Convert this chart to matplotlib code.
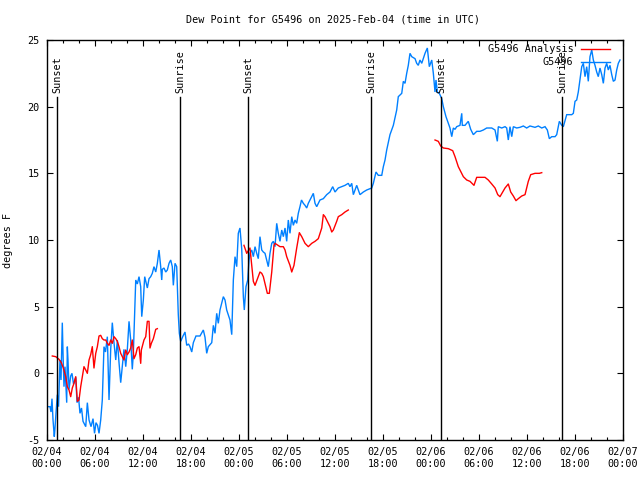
import numpy as np
import matplotlib
matplotlib.use("Agg")
import matplotlib.pyplot as plt
from matplotlib.ticker import MultipleLocator

# ---------------- data (hours since 2025-02-04 00:00 UTC) ----------------
obs_hours = [0.16, 0.41, 0.54, 0.66, 0.79, 0.95, 1.04, 1.16, 1.33, 1.48, 1.66, 1.79, 1.95,
             2.04, 2.16, 2.29, 2.50, 2.58, 2.66, 2.79, 3.00, 3.16, 3.35, 3.63, 3.79, 3.98,
             4.16, 4.35, 4.54, 4.88, 5.08, 5.29, 5.54, 5.79, 5.98, 6.16, 6.35, 6.54, 6.75,
             6.95, 7.16, 7.35, 7.58, 7.79, 8.00, 8.20, 8.41, 8.63, 8.83, 9.04, 9.25, 9.45,
             9.66, 9.88, 10.08, 10.29, 10.50, 10.70, 10.83, 11.00, 11.13, 11.33, 11.54, 11.75,
             11.88, 12.08, 12.25, 12.58, 12.79, 13.00, 13.20, 13.41, 13.63, 13.83, 14.04,
             14.25, 14.38, 14.45, 14.66, 14.88, 15.08, 15.29, 15.50, 15.70, 15.83, 16.04,
             16.25, 16.45, 16.58, 16.75, 17.04, 17.29, 17.50, 17.73, 17.91, 18.13, 18.33,
             18.66, 19.16, 19.58, 19.79, 20.00, 20.20, 20.63, 20.83, 21.04, 21.25, 21.45,
             21.66, 22.08, 22.29, 22.50, 22.91, 23.13, 23.33, 23.54, 23.75, 23.95, 24.16,
             24.38, 24.58, 24.70, 24.91, 25.13, 25.29, 25.41, 25.63, 25.83, 26.04, 26.25,
             26.45, 26.66, 26.88, 27.08, 27.29, 27.50, 27.70, 27.91, 28.13, 28.33, 28.54,
             28.75, 28.95, 29.16, 29.38, 29.58, 29.79, 30.00, 30.20, 30.41, 30.63, 30.83,
             31.04, 31.25, 31.45, 31.66, 31.85, 32.08, 32.29, 32.50, 32.70, 32.91, 33.13,
             33.33, 33.54, 33.75, 34.16, 34.58, 35.00, 35.41, 35.75, 36.04, 36.45, 36.88,
             37.29, 37.70, 37.91, 38.13, 38.33, 38.75, 39.16, 39.58, 40.00, 40.63, 40.83,
             41.16, 41.45, 41.88, 42.08, 42.29, 42.50, 42.91, 43.33, 43.75, 43.95, 44.38,
             44.58, 44.79, 45.00, 45.20, 45.41, 45.63, 46.04, 46.25, 46.45, 46.66, 46.88,
             47.29, 47.58, 47.83, 48.13, 48.33, 48.54, 48.66, 48.83, 49.08, 49.38, 49.58,
             49.91, 50.20, 50.41, 50.63, 50.83, 51.04, 51.25, 51.66, 51.88, 51.95, 52.29,
             52.70, 53.00, 53.33, 53.75, 54.16, 54.58, 55.00, 55.63, 56.04, 56.16, 56.33,
             56.45, 56.88, 57.29, 57.50, 57.70, 57.91, 58.13, 58.33, 58.75, 59.16, 59.58,
             60.00, 60.41, 61.04, 61.45, 61.88, 62.29, 62.58, 62.83, 63.13, 63.54, 63.75,
             64.08, 64.38, 64.58, 65.00, 65.63, 65.83, 66.04, 66.25, 66.45, 66.66, 66.88,
             67.08, 67.29, 67.50, 67.70, 67.91, 68.13, 68.33, 68.54, 68.75, 68.95, 69.16,
             69.38, 69.58, 69.79, 70.00, 70.20, 70.41, 70.63, 70.83, 71.04, 71.25, 71.45,
             71.66]
obs_dewpt = [-2.5, -2.5, -2.9, -1.9, -3.5, -4.75, -4.1, -3.0, -1.6, -2.5, 1.0, -0.5, 3.8,
             1.5, -1.0, 0.5, -2.2, 2.0, 1.0, -1.2, -0.2, 0.0, -0.8, -0.3, -2.2, -1.8,
             -3.0, -2.6, -3.6, -4.0, -2.2, -3.5, -4.0, -3.4, -4.5, -3.7, -3.9, -4.5, -3.5,
             -2.0, 2.0, 1.6, 2.75, -2.0, 1.8, 3.8, 2.3, 1.0, 2.5, 0.8, -0.7, 0.5,
             1.8, 0.5, 1.8, 3.9, 2.5, 0.3, 1.5, 4.75, 7.0, 6.7, 7.25, 6.5,
             4.25, 5.5, 7.25, 6.4, 7.1, 7.25, 7.5, 8.0, 7.6, 8.25, 9.25,
             8.0, 7.0, 7.8, 7.9, 7.6, 7.75, 8.25, 8.5, 8.0, 6.6, 8.25,
             8.0, 4.4, 3.0, 2.4, 2.8, 3.1, 2.1, 2.2, 2.0, 1.6, 2.3,
             2.8, 2.8, 3.25, 2.7, 1.5, 2.0, 2.3, 3.6, 3.0, 4.5, 3.75,
             4.75, 5.75, 5.5, 4.75, 4.0, 2.9, 7.0, 8.75, 8.0, 10.5, 10.9,
             9.3, 5.75, 4.75, 6.5, 7.0, 8.5, 9.0, 9.25, 8.75, 9.5, 9.0,
             8.6, 10.25, 9.25, 9.1, 9.0, 8.5, 8.0, 9.0, 9.75, 9.9, 9.5,
             11.25, 10.5, 9.9, 10.75, 10.25, 10.9, 9.9, 11.5, 10.5, 11.75, 11.1,
             11.5, 11.25, 12.0, 12.5, 13.0, 12.75, 12.6, 12.4, 12.75, 13.0, 13.25,
             13.5, 12.75, 12.5, 13.0, 13.1, 13.4, 13.6, 14.0, 13.6, 13.9, 14.0,
             14.1, 14.25, 14.0, 14.25, 13.4, 14.1, 13.4, 13.6, 13.75, 13.9, 14.25,
             15.1, 14.85, 14.85, 15.5, 16.0, 16.75, 17.9, 18.6, 19.75, 20.75, 21.0,
             21.9, 21.75, 22.5, 23.1, 24.0, 23.75, 23.6, 23.25, 23.1, 23.5, 23.25,
             24.0, 24.4, 23.0, 23.5, 22.5, 21.1, 22.0, 21.1, 21.0, 20.6, 20.0,
             19.25, 18.75, 18.4, 17.75, 18.4, 18.3, 18.5, 18.6, 19.5, 18.6, 18.6,
             18.9, 18.3, 17.9, 18.15, 18.15, 18.25, 18.4, 18.4, 18.25, 17.9, 17.4,
             18.5, 18.4, 18.5, 18.4, 17.5, 18.5, 17.75, 18.5, 18.4, 18.45, 18.55,
             18.4, 18.55, 18.45, 18.55, 18.4, 18.5, 18.25, 17.6, 17.75, 17.75, 17.9,
             18.9, 18.6, 18.5, 19.4, 19.4, 19.5, 20.4, 20.5, 21.1, 22.0, 23.0,
             23.25, 22.25, 23.0, 21.9, 23.75, 24.25, 23.5, 23.1, 22.6, 22.25, 22.9,
             22.4, 21.75, 22.9, 23.25, 22.75, 23.1, 22.4, 21.9, 22.0, 22.75, 23.25,
             23.5]

ana_hours = [0.70, 1.13, 1.54, 1.83, 2.08, 2.38, 2.58, 2.79, 3.00, 3.20, 3.41, 3.63, 3.83,
             4.04, 4.25, 4.45, 4.66, 4.88, 5.08, 5.29, 5.50, 5.70, 5.91, 6.13, 6.33, 6.54,
             6.75, 6.95, 7.16, 7.38, 7.58, 7.79, 8.00, 8.20, 8.41, 8.63, 8.83, 9.04, 9.25,
             9.45, 9.66, 9.88, 10.08, 10.29, 10.50, 10.70, 10.91, 11.13, 11.33, 11.54, 11.75,
             11.83, 12.16, 12.38, 12.58, 12.79, 12.91, 13.08, 13.33, 13.63, 13.83,
             18.0,
             24.66, 25.00, 25.41, 25.83, 26.04, 26.66, 26.88, 27.08, 27.58, 27.83, 28.13,
             28.41, 28.54, 29.16, 29.58, 29.79, 30.00, 30.41, 30.63, 30.91, 31.25, 31.58,
             31.88, 32.29, 32.70, 33.13, 33.54, 33.95, 34.38, 34.58, 34.79, 35.00, 35.41,
             35.63, 35.83, 36.25, 36.45, 36.88, 37.29, 37.70,
             43.0,
             48.54, 48.95, 49.25, 49.58, 50.20, 50.75, 51.04, 51.45, 51.66, 52.08, 52.50,
             52.91, 53.41, 53.75, 54.16, 54.79, 55.20, 55.63, 56.04, 56.38, 56.66, 57.00,
             57.29, 57.70, 58.00, 58.33, 58.66, 58.95, 59.38, 59.79, 60.00, 60.20, 60.50,
             61.04, 61.58, 61.88]
ana_dewpt = [1.3, 1.25, 1.05, 0.8, 0.4, -0.25, -1.0, -1.25, -1.75, -1.1, -0.75, -0.25, -2.1,
             -2.0, -1.0, -0.25, 0.5, 0.25, 0.0, 1.0, 1.4, 2.0, 0.4, 1.5, 2.0, 2.8,
             2.85, 2.6, 2.5, 2.5, 2.25, 2.1, 2.5, 2.25, 2.75, 2.6, 2.4, 2.0, 1.5,
             1.25, 1.0, 1.75, 1.4, 1.6, 1.9, 2.5, 1.1, 1.4, 1.9, 2.0, 0.75,
             1.75, 2.5, 2.75, 3.9, 3.9, 1.9, 2.25, 2.6, 3.3, 3.35,
             np.nan,
             9.6, 9.0, 9.4, 6.9, 6.6, 7.6, 7.5, 7.25, 6.0, 6.0, 7.6,
             9.6, 9.75, 9.5, 9.5, 9.25, 8.75, 8.1, 7.6, 8.1, 9.4, 10.55,
             10.25, 9.75, 9.5, 9.75, 9.9, 10.1, 10.9, 11.9, 11.75, 11.5, 11.0,
             10.6, 10.75, 11.4, 11.75, 11.9, 12.1, 12.25,
             np.nan,
             17.5, 17.4, 17.05, 16.9, 16.85, 16.7, 16.25, 15.5, 15.25, 14.75, 14.5,
             14.4, 14.1, 14.7, 14.7, 14.7, 14.5, 14.2, 13.9, 13.4, 13.25, 13.6,
             13.9, 14.2, 13.6, 13.3, 12.95, 13.1, 13.3, 13.4, 13.9, 14.4, 14.9,
             15.0, 15.0, 15.05]

sun_hours = [1.33, 16.70, 25.20, 40.58, 49.33, 64.45]
sun_labels = ["Sunset", "Sunrise", "Sunset", "Sunrise", "Sunset", "Sunrise"]

xtick_hours = [0, 6, 12, 18, 24, 30, 36, 42, 48, 54, 60, 66, 72]
xtick_labels = ["02/04\n00:00", "02/04\n06:00", "02/04\n12:00", "02/04\n18:00",
                "02/05\n00:00", "02/05\n06:00", "02/05\n12:00", "02/05\n18:00",
                "02/06\n00:00", "02/06\n06:00", "02/06\n12:00", "02/06\n18:00",
                "02/07\n00:00"]
ytick_values = [-5, 0, 5, 10, 15, 20, 25]

title = "Dew Point for G5496 on 2025-Feb-04 (time in UTC)"
ylabel = "degrees F"
legend_labels = ["G5496 Analysis", "G5496"]
obs_color = "#0080ff"
ana_color = "#ff0000"

# ---------------- figure ----------------
plt.rcParams['font.family'] = ['DejaVu Sans Mono']
FS = 7.3
fig = plt.figure(figsize=(6.4, 4.8), dpi=100)
ax = fig.add_axes([46.7 / 640, 1 - 440 / 480, 576 / 640, 400 / 480])

ax.plot(obs_hours, obs_dewpt, color=obs_color, lw=1.0, solid_joinstyle='miter')
ax.plot(ana_hours, ana_dewpt, color=ana_color, lw=1.0)

for h, lab in zip(sun_hours, sun_labels):
    ax.plot([h, h], [-5, 20.7], color='black', lw=1.0)
    ax.text(h, 21.0, lab, rotation=90, ha='center', va='bottom', fontsize=FS)

ax.set_xlim(0, 72)
ax.set_ylim(-5, 25)
ax.set_xticks(xtick_hours)
ax.set_xticklabels(xtick_labels, fontsize=FS, linespacing=1.25)
ax.xaxis.set_minor_locator(MultipleLocator(2))
ax.set_yticks(ytick_values)
ax.set_yticklabels([str(v) for v in ytick_values], fontsize=FS)
ax.tick_params(axis='both', which='major', direction='in', length=4.5, width=0.8,
               top=True, right=True, pad=5)
ax.tick_params(axis='both', which='minor', direction='in', length=2.5, width=0.8,
               top=True, right=True)
ax.tick_params(axis='y', which='minor', left=False, right=False)
for s in ax.spines.values():
    s.set_linewidth(1.0)

ax.set_ylabel(ylabel, fontsize=FS)
ax.yaxis.set_label_coords(-0.058, 0.5)

fig.text(333 / 640, 1 - 19 / 480, title, ha='center', va='center', fontsize=FS)

# legend (gnuplot style, no box)
leg_y = [0.9768, 0.944]
leg_colors = [ana_color, obs_color]
for lab, yy, col in zip(legend_labels, leg_y, leg_colors):
    ax.text(0.9142, yy, lab, transform=ax.transAxes, ha='right', va='center', fontsize=FS)
    ax.plot([0.9276, 0.9779], [yy, yy], transform=ax.transAxes, color=col, lw=1.0,
            clip_on=False)

fig.savefig("out.png", dpi=100)
